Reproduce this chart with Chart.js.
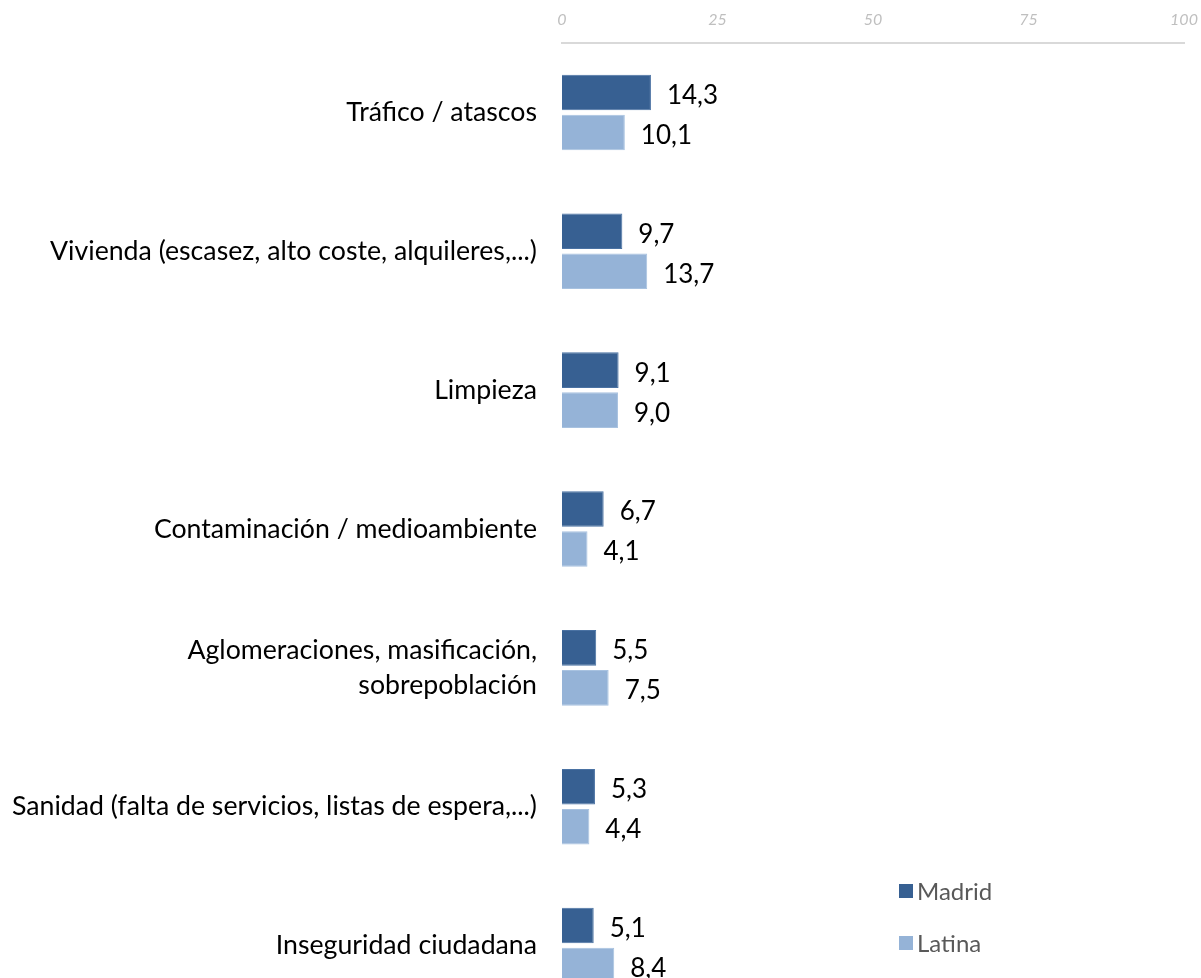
<!DOCTYPE html>
<html>
<head>
<meta charset="utf-8">
<script src="https://cdn.jsdelivr.net/npm/chart.js@4"></script>
<style>
  html, body { margin: 0; padding: 0; background: #fff; overflow: hidden; }
  #wrap { position: relative; width: 1201px; height: 978px; overflow: hidden; }
  #inner { position: absolute; left: 0; top: 0; width: 1201px; height: 1015px; }
</style>
</head>
<body>
<div id="wrap"><div id="inner"><canvas id="problemasChart"></canvas></div></div>
<script>
    // data
    var categories = [
        'Tráfico / atascos',
        'Vivienda (escasez, alto coste, alquileres,...)',
        'Limpieza',
        'Contaminación / medioambiente',
        ['Aglomeraciones, masificación,', 'sobrepoblación'],
        'Sanidad (falta de servicios, listas de espera,...)',
        'Inseguridad ciudadana'
    ];
    var madrid = [14.3, 9.7, 9.1, 6.7, 5.5, 5.3, 5.1];
    var latina = [10.1, 13.7, 9.0, 4.1, 7.5, 4.4, 8.4];
    var seriesNames = ['Madrid', 'Latina'];
    var tickValues = [0, 25, 50, 75, 100];

    var colors = ['#376092', '#95B3D7'];
    var borderColors = ['#4a72a3', '#a8c2e0'];

    // value labels at the end of each bar
    var valueLabels = {
        id: 'valueLabels',
        afterDatasetsDraw: function(chart) {
            var ctx = chart.ctx;
            ctx.save();
            ctx.font = '26px Lato';
            ctx.fillStyle = '#000';
            ctx.textAlign = 'left';
            ctx.textBaseline = 'middle';
            chart.data.datasets.forEach(function(ds, i) {
                chart.getDatasetMeta(i).data.forEach(function(bar, j) {
                    var txt = ds.data[j].toFixed(1).replace('.', ',');
                    ctx.fillText(txt, bar.x + 16, bar.y + 3);
                });
            });
            ctx.restore();
        }
    };

    // legend in the lower right corner, one item per row
    var cornerLegend = {
        id: 'cornerLegend',
        afterDraw: function(chart) {
            var ctx = chart.ctx;
            ctx.save();
            ctx.font = '24px Lato';
            ctx.textBaseline = 'middle';
            ctx.textAlign = 'left';
            seriesNames.forEach(function(name, i) {
                var y = 891 + i * 52;
                ctx.fillStyle = colors[i];
                ctx.fillRect(899, y - 7, 14, 14);
                ctx.fillStyle = '#595959';
                ctx.fillText(name, 917, y + 1);
            });
            ctx.restore();
        }
    };

    var ctx = document.getElementById('problemasChart').getContext('2d');
    var problemasChart = new Chart(ctx, {
        type: 'bar',
        data: {
            labels: categories,
            datasets: seriesNames.map(function(name, i) {
                return {
                    label: name,
                    data: i === 0 ? madrid : latina,
                    backgroundColor: colors[i],
                    borderColor: borderColors[i],
                    borderWidth: 1,
                    categoryPercentage: 0.576,
                    barPercentage: 0.89
                };
            })
        },
        options: {
            indexAxis: 'y',
            responsive: true,
            maintainAspectRatio: false,
            animation: false,
            layout: { padding: { left: 0, right: 17, top: 0, bottom: 0 } },
            plugins: {
                legend: { display: false },
                tooltip: { enabled: false }
            },
            scales: {
                x: {
                    position: 'top',
                    min: 0,
                    max: 100,
                    afterBuildTicks: function(scale) {
                        scale.ticks = tickValues.map(function(v) { return { value: v }; });
                    },
                    afterFit: function(scale) {
                        scale.height = 43;
                        scale.paddingLeft = 0;
                        scale.paddingRight = 0;
                    },
                    grid: { display: false, drawTicks: false },
                    border: { display: true, color: '#d9d9d9', width: 2 },
                    ticks: {
                        color: '#bfbfbf',
                        font: { family: 'Lato', size: 16, style: 'italic' },
                        padding: 14,
                        maxRotation: 0
                    }
                },
                y: {
                    // the last category runs past the bottom edge, as in the reference
                    afterFit: function(scale) {
                        scale.width = 562;
                        scale.paddingTop = 0;
                        scale.paddingBottom = 0;
                    },
                    grid: { display: false, drawTicks: false },
                    border: { display: false },
                    ticks: {
                        color: '#000',
                        font: { family: 'Lato', size: 26.7, lineHeight: 1.3 },
                        padding: 25
                    }
                }
            }
        },
        plugins: [valueLabels, cornerLegend]
    });
</script>
</body>
</html>
